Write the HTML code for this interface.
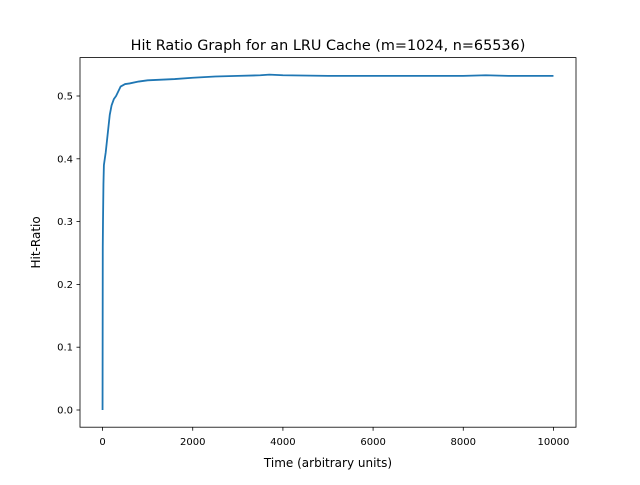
<!DOCTYPE html>
<html><head><meta charset="utf-8"><style>
body{margin:0;background:#fff;}
svg text{font-family:"DejaVu Sans","Liberation Sans",sans-serif;fill:#000;}
</style></head><body>
<svg id="chart" width="640" height="480">
<rect width="640" height="480" fill="#fff"/>
<text x="328" y="50" font-size="14.4" text-anchor="middle">Hit Ratio Graph for an LRU Cache (m=1024, n=65536)</text>
<g id="plot"></g>
<rect x="80" y="57.6" width="496" height="369.6" fill="none" stroke="#000" stroke-width="0.8"/>
<text x="328" y="467" font-size="12" text-anchor="middle">Time (arbitrary units)</text>
<text transform="translate(40,242.4) rotate(-90)" font-size="12" text-anchor="middle">Hit-Ratio</text>
</svg>
<script>
const xTicks=[0,2000,4000,6000,8000,10000];
const yTicks=[0.0,0.1,0.2,0.3,0.4,0.5];
const times=[0,5,10,20,30,50,70,100,130,160,200,250,300,400,500,600,800,1000,1300,1600,2000,2500,3000,3500,3700,4000,5000,6000,7000,8000,8500,9000,10000];
const hitRatio=[0,0.26,0.3,0.36,0.39,0.4,0.41,0.43,0.45,0.47,0.485,0.495,0.5,0.515,0.519,0.52,0.523,0.525,0.526,0.527,0.529,0.531,0.532,0.533,0.534,0.533,0.532,0.532,0.532,0.532,0.533,0.532,0.532];
const X=v=>80+(v+500)*496/11000;
const Y=v=>410-v*628;
const g=document.getElementById('plot');
const ns='http://www.w3.org/2000/svg';
function mk(t,a){const e=document.createElementNS(ns,t);for(const k in a)e.setAttribute(k,a[k]);g.appendChild(e);return e;}
xTicks.forEach(v=>{
 const l=mk('line',{x1:X(v),x2:X(v),y1:427.2,y2:430.7,stroke:'#000','stroke-width':0.8});
 
 
 const t=mk('text',{x:X(v),y:445,'font-size':10,'text-anchor':'middle'});t.textContent=v;
 
 
});
yTicks.forEach(v=>{
 const l=mk('line',{x1:76.5,x2:80,y1:Y(v),y2:Y(v),stroke:'#000','stroke-width':0.8});
 
 
 const t=mk('text',{x:73,y:Y(v)+3.5,'font-size':10,'text-anchor':'end'});t.textContent=v.toFixed(1);
 
 
});
const p=mk('polyline',{points:times.map((t,i)=>X(t)+','+Y(hitRatio[i])).join(' '),fill:'none',stroke:'#1f77b4','stroke-width':1.8,'stroke-linejoin':'round'});


</script>
</body></html>
